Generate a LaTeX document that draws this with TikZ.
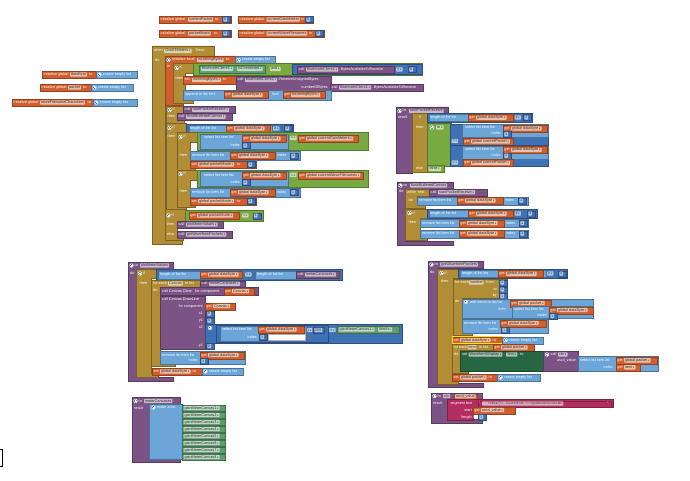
\documentclass[tikz,border=0pt]{standalone}
\usepackage{fontspec}
\setmainfont{Liberation Sans}
\definecolor{varC}{HTML}{D05F2D}
\definecolor{ctrlC}{HTML}{B18E35}
\definecolor{logicC}{HTML}{77AB41}
\definecolor{mathC}{HTML}{3F71B5}
\definecolor{listC}{HTML}{6CA5D8}
\definecolor{procC}{HTML}{7C5385}
\definecolor{textC}{HTML}{B32D5E}
\definecolor{getC}{HTML}{5E9E6E}
\definecolor{setC}{HTML}{266643}
\newcommand{\blkfont}{\fontsize{3.8}{4}\selectfont}
\newcommand{\dropm}{{\fontsize{2.2}{2}\selectfont\,▼}}
\newcounter{tc}
\tikzset{
  blk/.style={rectangle,anchor=north west,inner sep=0pt,fill=#1,draw=#1!70!black,line width=0.2pt},
  cshape/.style={fill=#1,draw=#1!70!black,line width=0.2pt},
  lbl/.style={anchor=west,inner sep=0pt,text=white,font=\blkfont,text height=2.7pt,text depth=0.7pt},
  fld/.style={anchor=west,inner xsep=0.8pt,inner ysep=0.5pt,fill=white,fill opacity=0.6,text opacity=1,
    text=black!80,rounded corners=0.6pt,font=\blkfont,text height=2.7pt,text depth=0.7pt},
  selbox/.style={draw=yellow!85!orange,line width=0.6pt}
}
% plain block, C-shaped block, labels and fields
\newcommand{\blk}[6]{\node[blk=#1,minimum width=#5pt,minimum height=#6pt] (#2) at (#3,#4) {};}
\newcommand{\cblk}[9]{\coordinate (#2) at (#3,#4);
  \draw[cshape=#1] (#3,#4) -- (#3+#5,#4) -- (#3+#5,#4+#6) -- (#3+#7,#4+#6) -- (#3+#7,#4+#8-4)
    -- (#3+#9,#4+#8-4) -- (#3+#9,#4+#8) -- (#3,#4+#8) -- cycle;}
\newcommand{\lbl}[3]{\stepcounter{tc}\node[lbl] (l\thetc) at (#1,#2) {#3};}
\newcommand{\lbr}[3]{\stepcounter{tc}\node[lbl,anchor=east] (l\thetc) at (#1,#2) {#3};}
\newcommand{\fld}[3]{\stepcounter{tc}\node[fld] (f\thetc) at (#1,#2) {#3};}
\newcommand{\gear}[2]{\fill[white] (#1,#2) circle (2.1pt); \fill[mathC] (#1,#2) circle (1.7pt);
  \draw[white,line width=0.45pt] (#1-1,#2) -- (#1+1,#2) (#1,#2-1) -- (#1,#2+1);}
% get, number and empty-list blocks
\newcommand{\getb}[5]{\blk{varC}{#1}{#2}{#3}{#4}{7}\lbl{#2+1.2}{#3+3.5}{get}\fld{#2+8}{#3+3.5}{#5}}
\newcommand{\numb}[5][8]{\blk{mathC}{#2}{#3}{#4}{#1}{6}\fld{#3+1.2}{#4+3}{#5}}
\newcommand{\emptyl}[4]{\blk{listC}{#1}{#2}{#3}{#4}{7}\gear{#2+3.5}{#3+3.5}\lbl{#2+7}{#3+3.5}{create empty list}}

\begin{document}
\begin{tikzpicture}[x=1pt,y=-1pt]
\useasboundingbox (0,0) rectangle (690,481);
\fill[white] (0,0) rectangle (690,481);

% Global variables (top)
\blk{varC}{gCurPacket}{159}{16}{72}{7}
\lbl{160.5}{19.5}{initialize global}\fld{188}{19.5}{currentPacket}\lbl{215}{19.5}{to}
\numb{nCurPacket}{222}{16.5}{0}
\blk{varC}{gCurGain}{238}{16}{75}{7}
\lbl{239.5}{19.5}{initialize global}\fld{266.5}{19.5}{currentGainMeters}\lbl{301}{19.5}{to}
\numb{nCurGain}{305}{16.5}{0}
\blk{varC}{gPacketMode}{159}{30}{72}{7}
\lbl{160.5}{33.5}{initialize global}\fld{188}{33.5}{packetMode}\lbl{214}{33.5}{to}
\numb{nPacketMode}{222}{30.5}{0}
\blk{varC}{gCurWave}{238}{30}{86}{7}
\lbl{239.5}{33.5}{initialize global}\fld{266.5}{33.5}{currentWaveFilenames}\lbl{309}{33.5}{to}
\numb{nCurWave}{315}{30.5}{0}

% Global lists (left)
\blk{varC}{gDataByte}{42}{71}{55}{7}
\lbl{43.5}{74.5}{initialize global}\fld{70}{74.5}{dataByte}\lbl{89}{74.5}{to}
\emptyl{eDataByte}{96}{71}{41}
\blk{varC}{gPacket}{40}{84}{52}{7}
\lbl{41.5}{87.5}{initialize global}\fld{68}{87.5}{packet}\lbl{83}{87.5}{to}
\emptyl{ePacket}{91}{84}{42}
\blk{varC}{gWaveChars}{12}{99}{81}{7}
\lbl{13.5}{102.5}{initialize global}\fld{40}{102.5}{waveFilenameCharacters}\lbl{87.5}{102.5}{to}
\emptyl{eWaveChars}{93}{99}{44}

% when Clock1Meters.Timer
\cblk{ctrlC}{clockTimer}{152}{46}{62}{10}{13}{198}{30}
\lbl{153.5}{51}{when}\fld{164}{51}{Clock1Meters\dropm}\lbl{195}{51}{Timer}
\lbl{155}{61}{do}
\cblk{varC}{incomingInit}{165}{56}{70}{8}{8}{49}{18}
\gear{168.5}{60}\lbl{172}{60}{initialize local}\fld{197}{60}{incomingBytes}\lbl{226}{60}{to}
\emptyl{eIncoming}{235}{56.5}{40}
\lbl{167}{67}{in}

% if connected and bytes available
\cblk{ctrlC}{ifConnected}{173}{63}{22}{10}{12}{40}{20}
\gear{176.5}{68}\lbl{179.5}{68}{if}
\lbl{175.5}{79}{then}
\blk{logicC}{andCond}{193}{63}{229}{12}
\blk{getC}{btConnected}{199}{65}{66}{8}
\fld{201}{69}{BluetoothClient1\dropm}\lbl{234}{69}{.}\fld{237}{69}{IsConnected\dropm}
\fld{270}{69}{and\dropm}
\blk{mathC}{bytesAvail}{292}{64.5}{130}{10}
\blk{procC}{callAvail}{297}{66}{97}{7}
\lbl{298.5}{69.5}{call}\fld{306}{69.5}{BluetoothClient1\dropm}\lbl{339.5}{69.5}{.BytesAvailableToReceive}
\fld{396}{69.5}{>\dropm}
\numb{nAvail}{408}{66.5}{0}
\blk{varC}{setIncoming}{183}{76}{53}{8}
\lbl{184.5}{80}{set}\fld{192}{80}{incomingBytes\dropm}\lbl{223}{80}{to}
\blk{procC}{receiveBytes}{236}{76}{95}{15}
\lbl{237.5}{80}{call}\fld{245}{80}{BluetoothClient1\dropm}\lbl{278}{80}{.ReceiveUnsignedBytes}
\lbr{328}{87.5}{numberOfBytes}
\blk{procC}{availInner}{330}{84}{93}{7}
\lbl{331.5}{87.5}{call}\fld{339}{87.5}{BluetoothClient1\dropm}\lbl{372.5}{87.5}{.BytesAvailableToReceive}
\blk{listC}{appendList}{183}{90}{148}{10}
\lbl{185}{95}{append to list  list1}
\getb{getDataA}{224}{91.5}{44}{global dataByte\dropm}
\lbl{272}{95}{list2}
\getb{getIncoming}{283}{91.5}{42}{incomingBytes\dropm}

% if startPacketReceive
\cblk{ctrlC}{ifStart}{166}{106}{17}{8}{11}{17}{18}
\gear{169.5}{110}\lbl{172.5}{110}{if}
\blk{procC}{callStart}{183}{106.5}{52}{7}
\lbl{184.5}{110}{call}\fld{192}{110}{startPacketReceive\dropm}
\lbl{167.5}{116.5}{then}
\blk{procC}{callFlush}{177}{113.5}{55}{6.5}
\lbl{178.5}{116.8}{call}\fld{186}{116.8}{flushBufferedCanvas\dropm}

% if length of dataByte
\cblk{ctrlC}{ifLength}{166}{123.5}{20}{9.5}{11}{86}{20}
\gear{169.5}{128}\lbl{172.5}{128}{if}
\lbl{167.5}{137}{then}
\blk{mathC}{lenCmp}{186}{124}{107}{9}
\blk{listC}{lenList}{188.5}{125}{83}{7}
\lbl{190}{128.5}{length of list  list}
\getb{getDataB}{226}{125}{44}{global dataByte\dropm}
\fld{273}{128.5}{≥\dropm}
\numb{nLen}{284}{125.5}{3}

\cblk{ctrlC}{ifGain}{177}{132}{21}{10}{13}{38}{18}
\gear{180.5}{137}\lbl{183.5}{137}{if}
\blk{logicC}{gainCmp}{197}{132}{171}{18}
\blk{listC}{selGain}{200}{134}{88}{15}
\lbl{204}{138}{select list item  list}
\getb{getDataC}{242}{135}{44}{global dataByte\dropm}
\lbr{240}{145.5}{index}\numb{nIdxA}{242}{142.5}{1}
\fld{290}{138}{=\dropm}
\getb{getGain}{298}{135}{60}{global currentGainMeters\dropm}
\lbl{179.5}{155.5}{then}
\blk{listC}{removeGain}{190}{151.5}{110}{8.5}
\lbl{192}{155.7}{remove list item  list}
\getb{getDataD}{230}{152.2}{45}{global dataByte\dropm}
\lbl{277}{155.7}{index}\numb{nIdxB}{290}{152.7}{1}
\blk{varC}{setModeA}{190}{161}{66}{7}
\lbl{191.5}{164.5}{set}\fld{198}{164.5}{global packetMode\dropm}\lbl{237}{164.5}{to}
\numb{nModeA}{247}{161.5}{1}

\cblk{ctrlC}{ifWave}{177}{170}{21}{10}{13}{37}{18}
\gear{180.5}{174}\lbl{183.5}{174}{if}
\blk{logicC}{waveCmp}{197}{170}{171}{17}
\blk{listC}{selWave}{200}{171}{88}{15}
\lbl{204}{175}{select list item  list}
\getb{getDataE}{242}{171.8}{44}{global dataByte\dropm}
\lbr{240}{182.5}{index}\numb{nIdxC}{242}{179.5}{1}
\fld{290}{175}{=\dropm}
\getb{getWave}{298}{171.8}{65}{global currentWaveFilenames\dropm}
\lbl{179.5}{192}{then}
\blk{listC}{removeWave}{190}{188}{110}{8.5}
\lbl{192}{192.2}{remove list item  list}
\getb{getDataF}{230}{188.7}{45}{global dataByte\dropm}
\lbl{277}{192.2}{index}\numb{nIdxD}{290}{189.2}{1}
\blk{varC}{setModeB}{190}{197.5}{66}{7}
\lbl{191.5}{201}{set}\fld{198}{201}{global packetMode\dropm}\lbl{237}{201}{to}
\numb{nModeB}{247}{198}{2}

% if packetMode = 1
\cblk{ctrlC}{ifMode}{165}{209.5}{20}{12}{12}{31}{18}
\gear{168.5}{215.5}\lbl{171.5}{215.5}{if}
\blk{logicC}{modeCmp}{185}{210}{78}{11}
\getb{getMode}{189}{212}{50}{global packetMode\dropm}
\fld{242}{215.5}{=\dropm}
\numb{nModeC}{252.5}{212.5}{1}
\lbl{167}{224.5}{then}
\blk{procC}{callPlot}{177}{221}{46}{7}
\lbl{178.5}{224.5}{call}\fld{186}{224.5}{plotMeterValues\dropm}
\lbl{167}{234.5}{else}
\blk{procC}{callWave}{177}{231}{55}{7}
\lbl{178.5}{234.5}{call}\fld{186}{234.5}{getWaveformPackets\dropm}

% to startPacketReceive
\cblk{procC}{spr}{396}{107}{52}{8}{16}{66}{16}
\gear{399.5}{111}\lbl{402.5}{111}{to}\fld{409}{111}{startPacketReceive}
\lbl{398}{117.5}{result}
\cblk{ctrlC}{sprIf}{412}{113}{15}{9}{15}{59}{15}
\lbl{419}{117.5}{if}\lbl{416}{127.5}{then}\lbl{416}{168.5}{else}
\blk{mathC}{sprLen}{427}{113}{105}{9}
\blk{listC}{sprLenList}{428.5}{114}{85}{7}
\lbl{430}{117.5}{length of list  list}
\getb{getDataG}{468}{114.3}{45}{global dataByte\dropm}
\fld{514.5}{117.5}{≥\dropm}
\numb{nSprLen}{523}{114.5}{3}
\blk{logicC}{sprOr}{427}{123}{24}{43}
\gear{432}{127.5}\fld{436}{127.5}{or\dropm}
\blk{mathC}{sprCmpA}{450}{124}{98}{21}
\blk{listC}{sprSelA}{462}{124.5}{86}{13}
\lbl{465}{128}{select list item  list}
\getb{getDataH}{503}{125}{44}{global dataByte\dropm}
\lbr{501}{134}{index}\numb{nIdxE}{503}{131.2}{1}
\fld{451.5}{141}{=\dropm}
\getb{getPacketA}{463}{138}{50}{global currentPacket\dropm}
\blk{mathC}{sprCmpB}{450}{145.5}{98}{21}
\blk{listC}{sprSelB}{462}{146}{86}{13}
\lbl{465}{149.5}{select list item  list}
\getb{getDataI}{503}{146.5}{44}{global dataByte\dropm}
\lbr{501}{155.5}{index}\numb{nIdxF}{503}{152.7}{2}
\fld{451.5}{162.5}{=\dropm}
\getb{getPacketB}{463}{159.5}{50}{global currentPacket\dropm}
\blk{logicC}{sprFalse}{427}{165.5}{17}{7}
\fld{428.5}{169}{false\dropm}

% to flushBufferedCanvas
\cblk{procC}{fbc}{397}{182}{56}{7}{8}{63}{56}
\gear{400.5}{185.5}\lbl{403.5}{185.5}{to}\fld{410}{185.5}{flushBufferedCanvas}
\lbl{399}{191.5}{do}
\cblk{ctrlC}{flushWhile}{405}{189}{25}{7}{12}{19}{20}
\lbl{407}{192.5}{while}\lbl{418}{192.5}{test}
\blk{procC}{whileStart}{429}{189}{58}{6.5}
\lbl{430.5}{192.2}{call}\fld{438}{192.2}{startPacketReceive\dropm}
\lbl{408.5}{200}{do}
\blk{listC}{flushRemoveA}{417}{196.5}{111}{8}
\lbl{419}{200.5}{remove list item  list}
\getb{getDataJ}{457}{197}{46}{global dataByte\dropm}
\lbl{505}{200.5}{index}\numb{nIdxG}{518}{197.5}{1}
\cblk{ctrlC}{flushIf}{405}{209}{22}{9}{15}{31}{22}
\gear{409.5}{213}\lbl{412.5}{213}{if}
\blk{mathC}{flushLen}{427}{209}{110}{9}
\blk{listC}{flushLenList}{428.5}{210}{85}{7}
\lbl{430}{213.5}{length of list  list}
\getb{getDataK}{468}{210.3}{45}{global dataByte\dropm}
\fld{514.5}{213.5}{≥\dropm}
\numb{nFlushLen}{527}{210.5}{3}
\lbl{408.5}{222.5}{then}
\blk{listC}{flushRemoveB}{420}{219}{108}{8}
\lbl{422}{223}{remove list item  list}
\getb{getDataL}{459}{219.5}{45}{global dataByte\dropm}
\lbl{506}{223}{index}\numb{nIdxH}{519}{220}{1}
\blk{listC}{flushRemoveC}{420}{229.5}{108}{8}
\lbl{422}{233.5}{remove list item  list}
\getb{getDataM}{459}{230}{45}{global dataByte\dropm}
\lbl{506}{233.5}{index}\numb{nIdxI}{519}{230.5}{1}

% to plotMeterValues
\cblk{procC}{pmv}{128}{262}{45}{7}{8}{119}{45}
\gear{131.5}{265.5}\lbl{134.5}{265.5}{to}\fld{140}{265.5}{plotMeterValues}
\lbl{130}{273.5}{do}
\cblk{ctrlC}{plotIf}{136}{269}{20}{9}{15}{108}{22}
\gear{140}{273.5}\lbl{143}{273.5}{if}
\lbl{139.5}{283.5}{then}
\blk{mathC}{plotCmp}{156}{269}{186}{11}
\blk{listC}{plotLenA}{158}{270.5}{85}{8}
\lbl{160}{274.5}{length of list  list}
\getb{getDataN}{200}{271}{42}{global dataByte\dropm}
\fld{245}{274.5}{=\dropm}
\blk{listC}{plotLenB}{255}{270.5}{85}{8}
\lbl{257}{274.5}{length of list  list}
\blk{procC}{plotCallMC}{296}{271}{43}{7}
\lbl{297.5}{274.5}{call}\fld{305}{274.5}{meterCanvases\dropm}
\cblk{ctrlC}{forCanvas}{151}{280}{49}{7}{9}{86}{24}
\lbl{153}{283.5}{for each}\fld{168}{283.5}{Canvas}\lbl{185}{283.5}{in list}
\blk{procC}{forCallMC}{200}{280.5}{45}{6.5}
\lbl{201.5}{283.7}{call}\fld{209}{283.7}{meterCanvases\dropm}
\lbl{153}{290.5}{do}
\blk{procC}{canvasClear}{160}{287}{98}{8}
\lbl{162}{291}{call Canvas.Clear}\lbl{195}{291}{for component}
\getb{getCanvasA}{224}{287.5}{30}{Canvas\dropm}
\blk{procC}{drawLine}{160}{296}{45}{53}
\lbl{162}{299.5}{call Canvas.DrawLine}
\lbr{203}{306}{for component}
\getb{getCanvasB}{205}{302.5}{30}{Canvas\dropm}
\lbr{203}{313}{x1}\numb{nX1}{206}{310.5}{0}
\lbr{203}{320}{y1}\numb{nY1}{206}{317.5}{0}
\lbr{203}{327}{x2}
\lbr{203}{345.5}{y2}\numb{nY2}{206}{343}{0}
\blk{mathC}{mulWidth}{205}{323.5}{197}{19}
\gear{210}{328}
\blk{mathC}{divByte}{215.5}{324.5}{112}{17}
\blk{listC}{selByte}{219.5}{325.5}{86}{15}
\lbl{222}{329.5}{select list item  list}
\getb{getDataO}{258}{326}{46}{global dataByte\dropm}
\lbr{257}{337}{index}\numb{nIdxJ}{259}{334}{1}
\blk{white}{emptySlot}{268}{334}{37}{6}
\fld{307}{330}{/\dropm}
\numb[11]{n255}{313}{327}{255}
\fld{329}{330}{×\dropm}
\blk{getC}{gainWidth}{337}{326}{62}{7}
\fld{338.5}{329.5}{gainMeterCanvas1\dropm}\lbl{375.5}{329.5}{.}\fld{378}{329.5}{Width\dropm}
\blk{listC}{plotRemove}{160}{351}{85}{13}
\lbl{162}{355}{remove list item  list}
\getb{getDataP}{200}{351.5}{44}{global dataByte\dropm}
\lbr{198}{360.5}{index}\numb{nIdxK}{200}{358}{1}
\blk{varC}{plotSet}{152}{368}{50}{7}
\lbl{153.5}{371.5}{set}\fld{160}{371.5}{global dataByte\dropm}\lbl{192.5}{371.5}{to}
\emptyl{plotEmpty}{202}{368}{41}

% to getWaveformPackets
\cblk{procC}{gwp}{428}{261}{55}{7}{9}{126}{55}
\gear{431.5}{264.5}\lbl{434.5}{264.5}{to}\fld{440}{264.5}{getWaveformPackets}
\lbl{430}{272.5}{do}
\cblk{ctrlC}{waveIf}{437}{269}{21}{9}{16}{115}{21}
\gear{441.5}{273}\lbl{444.5}{273}{if}
\lbl{441}{281.5}{then}
\blk{mathC}{waveLen}{458}{269}{109}{9}
\blk{listC}{waveLenList}{460}{270}{86}{7}
\lbl{462}{273.5}{length of list  list}
\getb{getDataQ}{498}{270.3}{45}{global dataByte\dropm}
\fld{547}{273.5}{≥\dropm}
\numb{nWaveLen}{558}{270.5}{4}
\cblk{ctrlC}{forNumber}{453}{279}{54}{19}{9}{56}{19}
\lbl{455}{282.5}{for each}\fld{469}{282.5}{number}\lbl{486}{282.5}{from}
\numb{nFrom}{499}{279.5}{1}
\lbr{497}{289}{to}\numb{nTo}{499}{286.5}{4}
\lbr{497}{295.5}{by}\numb{nBy}{499}{293}{1}
\lbl{455}{301.5}{do}
\blk{listC}{addPacket}{462}{299}{131}{19}
\gear{466}{302}\lbl{470}{302}{add items to list  list}
\getb{getPacketC}{510}{299.5}{41}{global packet\dropm}
\lbr{506}{309.5}{item}
\blk{listC}{addSel}{512}{306}{81}{12}
\lbl{514}{309.5}{select list item  list}
\getb{getDataR}{549}{306.5}{44}{global dataByte\dropm}
\lbr{547}{315.5}{index}\numb{nIdxL}{549}{313}{1}
\blk{listC}{waveRemove}{462}{319}{86}{14}
\lbl{464}{323}{remove list item  list}
\getb{getDataS}{500}{319.5}{46}{global dataByte\dropm}
\lbr{498}{329.5}{index}\numb{nIdxM}{501}{327}{1}
\blk{varC}{waveSetData}{452}{336.5}{50}{7}
\draw[selbox] (waveSetData.north west) rectangle (waveSetData.south east);
\lbl{453.5}{340}{set}\fld{460}{340}{global dataByte\dropm}\lbl{492.5}{340}{to}
\emptyl{waveEmptyA}{502}{336.5}{41}
\cblk{ctrlC}{forItem}{452}{344}{41}{6.5}{8}{29}{16}
\lbl{453.5}{347.2}{for each}\fld{467.5}{347.2}{item}\lbl{479}{347.2}{in list}
\getb{getPacketD}{493}{344}{41}{global packet\dropm}
\lbl{454}{354.5}{do}
\blk{setC}{setWaveText}{460}{351}{83}{20}
\lbl{462}{354.5}{set}\fld{468.5}{354.5}{WaveformDisplay\dropm}\lbl{503.5}{354.5}{.}\fld{506}{354.5}{Text\dropm}\lbl{520}{354.5}{to}
\blk{procC}{callChr}{543}{351}{35}{20}
\gear{547}{354.5}\lbl{550.5}{354.5}{call}\fld{558}{354.5}{chr\dropm}
\lbr{576}{360.5}{ascii\_value}
\blk{listC}{chrSel}{578}{356}{80}{14.5}
\lbl{580}{360}{select list item  list}
\getb{getPacketE}{616}{356.8}{41}{global packet\dropm}
\lbr{613}{367}{index}
\getb{getItem}{616}{363.8}{24}{item\dropm}
\blk{varC}{waveSetPacket}{452}{374}{45}{7}
\lbl{453.5}{377.5}{set}\fld{460}{377.5}{global packet\dropm}\lbl{488.5}{377.5}{to}
\emptyl{waveEmptyB}{497}{374}{43}

% to meterCanvases
\cblk{procC}{mc}{132}{397.5}{48}{7}{17}{64.5}{48}
\gear{135.5}{401}\lbl{138.5}{401}{to}\fld{144}{401}{meterCanvases}
\lbl{134}{408}{result}
\blk{listC}{makeList}{149}{403.5}{33}{55.5}
\gear{153.5}{407.5}\lbl{157}{407.5}{make a list}
\foreach \k in {1,...,8} {
  \blk{getC}{gainItem\k}{182}{398+7*\k}{43}{6}
  \fld{183.5}{401+7*\k}{gainMeterCanvas\k\dropm}
}

% to chr ascii_value
\cblk{procC}{chrProc}{431}{393}{51}{6}{16}{30}{51}
\gear{434.5}{396}\lbl{437.5}{396}{to}\fld{443}{396}{chr}
\blk{varC}{chrArg}{454}{393.5}{23}{5.5}
\fld{455}{396.2}{ascii\_value}
\lbl{433}{403.5}{result}
\cblk{textC}{segment}{447}{399.5}{166}{8}{26}{21}{26}
\lbr{472.5}{403.5}{segment text}
\blk{textC}{chrTable}{478}{400.5}{133}{6}
\lbl{479}{403.5}{“}\fld{482}{403.5}{\fontsize{3}{3}\selectfont\ \ \ \ \ \ !"\#\$\%\&'()*+,-./0123456789:;<=>?@ABCDEFGHIJKLMN}\lbl{607}{403.5}{”}
\lbr{472}{410}{start}
\getb{getAscii}{473}{406.5}{42}{ascii\_value\dropm}
\lbr{472}{417}{length}
\numb{nChrLen}{478}{414}{1}

% edge of the workspace
\draw[line width=0.6pt] (0,449) -- (2.5,449) -- (2.5,466) -- (0,466);
\end{tikzpicture}
\end{document}
